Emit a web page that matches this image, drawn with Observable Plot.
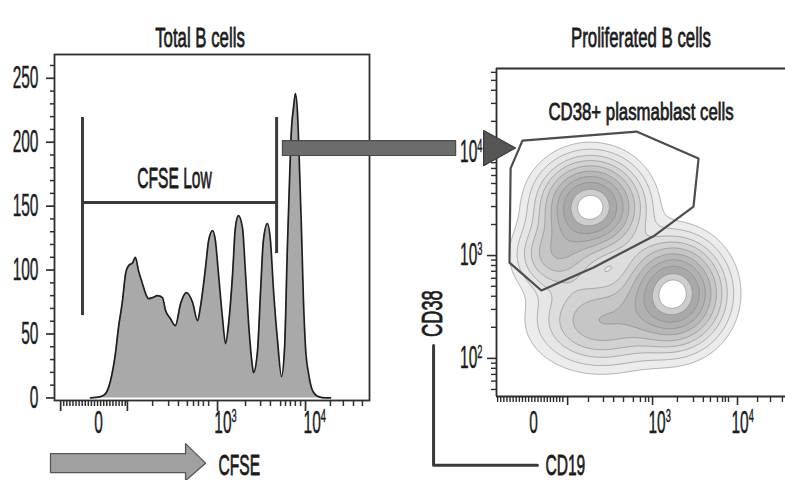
<!DOCTYPE html>
<html>
<head>
<meta charset="utf-8">
<script src="https://cdn.jsdelivr.net/npm/d3@7"></script>
<script src="https://cdn.jsdelivr.net/npm/@observablehq/plot@0.6"></script>
<style>
  body { margin: 0; background: #fff; }
  #fig { position: relative; width: 785px; height: 480px; overflow: hidden; }
  #fig svg { position: absolute; left: 0; top: 0; }
</style>
</head>
<body>
<div id="fig"></div>
<script>
// ---------------- Left panel: CFSE histogram (x = display channel 0–1024, y = cell count)
const histChannel = [117,150,166,182,198,208,221,231,241,254,263,273,286,296,306,319,335,351,361,377,393,410,429,449,465,475,491,501,514,523,533,546,556,566,579,588,598,611,621,631,644,647,660,670,679,692,702,712,725,738,748,757,764,770,777,783,790,796,803,809,816,826,839,858,881,897];
const histCount   = [0,1,3.4,13.5,34.7,55,76,97,103.5,105.8,110,99.6,89.4,81.6,77.7,78.5,80,78.5,68.3,62,56.6,73.8,82.4,74.6,60.5,72.2,101.9,123,130.8,123,97.2,62.8,42.5,58.1,97.2,133.2,142.6,133.2,97.2,58.1,23.7,19.8,37,84,123,136.3,123,84,44.8,16.7,39.4,117.6,170,209,227,238,222.3,183.2,130.8,78.5,39.4,19,5.7,1,0,0];

const countTicks      = [0, 50, 100, 150, 200, 250];
const countMinorTicks = [10,20,30,40,60,70,80,90,110,120,130,140,160,170,180,190,210,220,230,240,260];
const cfseMajorChannels = [20, 237, 530, 816];
const cfseMinorChannels = [30,40,50,60,70,80,90,100,110,120,130,140,150,160,170,180,190,200,210,220,230,319,371,403,432,452,468,484,501,621,670,702,735,751,767,783,800,897,939,972,1001];
const cfseLabelChannels = [143, 556, 846];
const cfseLabels        = ["0", "10³", "10⁴"];

// "CFSE Low" gate
const gateChannels = [91, 722];
const gateBottoms  = [64.4, 112.9];
const gateTop      = 219.3;
const gateLevel    = 152.8;

// block arrows (left panel data units)
const cfseArrow     = [[-13,-43.6],[426,-43.6],[426,-35.7],[491,-51],[426,-64.7],[426,-58.4],[-13,-58.4]];
const gateArrowBody = [[741,201.3],[1304,201.3],[1304,189.6],[741,189.6]];
const gateArrowHead = [[1395,209.1],[1499,195.5],[1395,181.7]];

// ---------------- Right panel: CD19 vs CD38 contour (display channels 0–1024)
const cd19MajorChannels = [252, 553, 854];
const cd19MinorChannels = [4,15,26,37,48,59,70,81,92,103,114,125,136,147,158,169,180,191,202,213,224,235,326,379,415,450,485,510,528,539,641,698,733,758,783,801,811,822,925,971,1013];
const cd19LabelChannels = [131, 578, 872];
const cd19Labels        = ["0", "10³", "10⁴"];
const cd38MajorChannels = [119, 440, 762];
const cd38MinorChannels = [22,48,69,88,104,216,272,313,344,369,391,409,426,537,593,634,665,690,712,730,747,859,915,956,987,1012];
const cd38Labels        = ["10²", "10³", "10⁴"];

// population density components
const popCD19     = [333, 209, 628, 368];
const popCD38     = [592, 440, 322, 237];
const popSpread19 = [95, 78, 92, 124];
const popSpread38 = [78, 62, 86, 78];
const popWeight   = [1, 0.3, 1, 0.35];
const densityLevels = [0.035, 0.07, 0.12, 0.18, 0.26, 0.36, 0.48, 0.62, 0.78, 0.9];

// CD38+ plasmablast gate polygon
const plasmablastGate = [[92,799],[496,827],[716,743],[698,593],[556,500],[344,403],[159,331],[46,418],[50,712]];
// CD38 / CD19 orientation guide
const axisGuide = [[-223,159],[-223,-215],[145,-215]];

const hist = histChannel.map((ch, i) => ({ch, count: histCount[i]}));
function density(x, y) {
  let s = 0;
  for (let i = 0; i < popWeight.length; ++i) {
    const dx = (x - popCD19[i]) / popSpread19[i];
    const dy = (y - popCD38[i]) / popSpread38[i];
    s += popWeight[i] * Math.exp(-0.5 * (dx * dx + dy * dy));
  }
  return s;
}

const FONT = "'Liberation Sans', Arial, Helvetica, sans-serif";
const INK = "#1c1c1c";
const AX = "#2e2e2e";
const lab = {fill: INK, stroke: INK, strokeWidth: 0.45};
const head = {fill: INK, stroke: INK, strokeWidth: 0.8};

const left = Plot.plot({
  width: 785, height: 480,
  marginLeft: 54, marginRight: 416, marginTop: 54, marginBottom: 80,
  x: {domain: [0, 1024], label: null},
  y: {domain: [-2, 268.6], label: null},
  style: {background: "transparent", fontFamily: FONT, color: INK},
  marks: [
    Plot.areaY(hist, {x: "ch", y: "count", fill: "#a9a9a9", curve: "monotone-x"}),
    Plot.lineY(hist, {x: "ch", y: "count", stroke: "#1e1e1e", strokeWidth: 1.7, curve: "monotone-x"}),
    Plot.frame({stroke: AX, strokeWidth: 1.8}),
    Plot.axisY(countMinorTicks, {tickSize: 4, tickFormat: () => "", label: null, stroke: AX, strokeWidth: 1.5}),
    Plot.axisY(countTicks, {tickSize: 8, tickFormat: () => "", label: null, stroke: AX, strokeWidth: 1.7}),
    Plot.text(countTicks, {y: d => d, text: d => String(d), frameAnchor: "left", textAnchor: "end", dx: -16, fontSize: 31, ...lab}),
    Plot.axisX(cfseMinorChannels, {tickSize: 6, tickFormat: () => "", label: null, stroke: AX, strokeWidth: 1.5}),
    Plot.axisX(cfseMajorChannels, {tickSize: 11, tickFormat: () => "", label: null, stroke: AX, strokeWidth: 1.7}),
    Plot.text(cfseLabelChannels, {x: d => d, text: (d, i) => cfseLabels[i], frameAnchor: "bottom", dy: 32, fontSize: 31, ...lab}),
    Plot.ruleX(gateChannels, {x: d => d, y1: (d, i) => gateBottoms[i], y2: gateTop, stroke: "#3a3a3a", strokeWidth: 3}),
    Plot.ruleY([gateLevel], {y: d => d, x1: gateChannels[0], x2: gateChannels[1], stroke: "#3a3a3a", strokeWidth: 3}),
    Plot.text([gateLevel], {x: (gateChannels[0] + gateChannels[1]) / 2, y: d => d, text: () => "CFSE Low", dx: -5, dy: -24, fontSize: 30, ...head}),
    Plot.line(cfseArrow, {x: d => d[0], y: d => d[1], curve: "linear-closed", fill: "#a0a0a0", stroke: "#555", strokeWidth: 1.3}),
    Plot.text([cfseArrow[3]], {x: d => d[0], y: d => d[1], text: () => "CFSE", textAnchor: "start", dx: 13, dy: 2, fontSize: 30, ...head}),
    Plot.line(gateArrowBody, {x: d => d[0], y: d => d[1], curve: "linear-closed", fill: "#6c6c6c", stroke: "#4a4a4a", strokeWidth: 1.2}),
    Plot.line(gateArrowHead, {x: d => d[0], y: d => d[1], curve: "linear-closed", fill: "#555555", stroke: "#3a3a3a", strokeWidth: 1.2}),
    Plot.text(["Total B cells"], {text: d => d, frameAnchor: "top", dx: -12, dy: -27, fontSize: 28, ...head})
  ]
});

const right = Plot.plot({
  width: 785, height: 480,
  marginLeft: 496, marginRight: 0, marginTop: 68, marginBottom: 84,
  x: {domain: [0, 1024], label: null},
  y: {domain: [0, 1024], label: null},
  color: {type: "linear", domain: [0.035, 0.18, 0.36, 0.62, 0.78, 0.9], range: ["#ececec", "#d2d2d2", "#b8b8b8", "#a9a9a9", "#cdcdcd", "#ffffff"]},
  style: {background: "transparent", fontFamily: FONT, color: INK},
  marks: [
    Plot.contour({fill: density, x1: 0, y1: 0, x2: 1024, y2: 1024, thresholds: densityLevels, stroke: "#858585", strokeWidth: 0.6}),
    Plot.line(plasmablastGate, {x: d => d[0], y: d => d[1], curve: "linear-closed", stroke: "#4d4d4d", strokeWidth: 2.2}),
    Plot.ruleX([0], {stroke: AX, strokeWidth: 1.8}),
    Plot.ruleY([0, 1024], {stroke: AX, strokeWidth: 1.8}),
    Plot.axisX(cd19MinorChannels, {tickSize: 6, tickFormat: () => "", label: null, stroke: AX, strokeWidth: 1.4}),
    Plot.axisX(cd19MajorChannels, {tickSize: 9, tickFormat: () => "", label: null, stroke: AX, strokeWidth: 1.6}),
    Plot.text(cd19LabelChannels, {x: d => d, text: (d, i) => cd19Labels[i], frameAnchor: "bottom", dy: 36, fontSize: 31, ...lab}),
    Plot.axisY(cd38MinorChannels, {tickSize: 5, tickFormat: () => "", label: null, stroke: AX, strokeWidth: 1.4}),
    Plot.axisY(cd38MajorChannels, {tickSize: 9, tickFormat: () => "", label: null, stroke: AX, strokeWidth: 1.6}),
    Plot.text(cd38MajorChannels, {y: d => d, text: (d, i) => cd38Labels[i], frameAnchor: "left", textAnchor: "end", dx: -14, fontSize: 31, ...lab}),
    Plot.line(axisGuide, {x: d => d[0], y: d => d[1], stroke: "#3a3a3a", strokeWidth: 3}),
    Plot.text([axisGuide[0]], {x: d => d[0], y: d => d[1], text: () => "CD38", rotate: -90, dx: -1, dy: -32, fontSize: 29, ...head}),
    Plot.text([axisGuide[2]], {x: d => d[0], y: d => d[1], text: () => "CD19", textAnchor: "start", dx: 8, fontSize: 30, ...head}),
    Plot.text(["Proliferated B cells"], {text: d => d, frameAnchor: "top", dy: -41, fontSize: 28, ...head}),
    Plot.text(["CD38+ plasmablast cells"], {text: d => d, frameAnchor: "top", dy: 35, fontSize: 23, ...head})
  ]
});

const fig = document.getElementById("fig");
fig.appendChild(right);
fig.appendChild(left);

// condensed lettering and raised exponents, as in the original figure
const CONDENSE = {31: 0.5, 30: 0.52, 29: 0.63, 28: 0.6, 23: 0.73};
const SUP = {"²": "2", "³": "3", "⁴": "4"};
for (const svg of [left, right]) {
  svg.querySelectorAll("text").forEach(t => {
    const m = /^10([²³⁴])$/.exec(t.textContent);
    if (m && t.children.length === 0) {
      t.textContent = "10";
      const sp = document.createElementNS("http://www.w3.org/2000/svg", "tspan");
      sp.setAttribute("font-size", "0.6em");
      sp.setAttribute("dy", "-0.55em");
      sp.textContent = SUP[m[1]];
      t.appendChild(sp);
    }
    const fs = Math.round(parseFloat(getComputedStyle(t).fontSize));
    const s = CONDENSE[fs];
    if (!s) return;
    const x = +(t.getAttribute("x") || 0);
    const tr = t.getAttribute("transform") || "";
    t.setAttribute("transform", `${tr} translate(${x},0) scale(${s},1) translate(${-x},0)`);
  });
}
</script>
</body>
</html>
